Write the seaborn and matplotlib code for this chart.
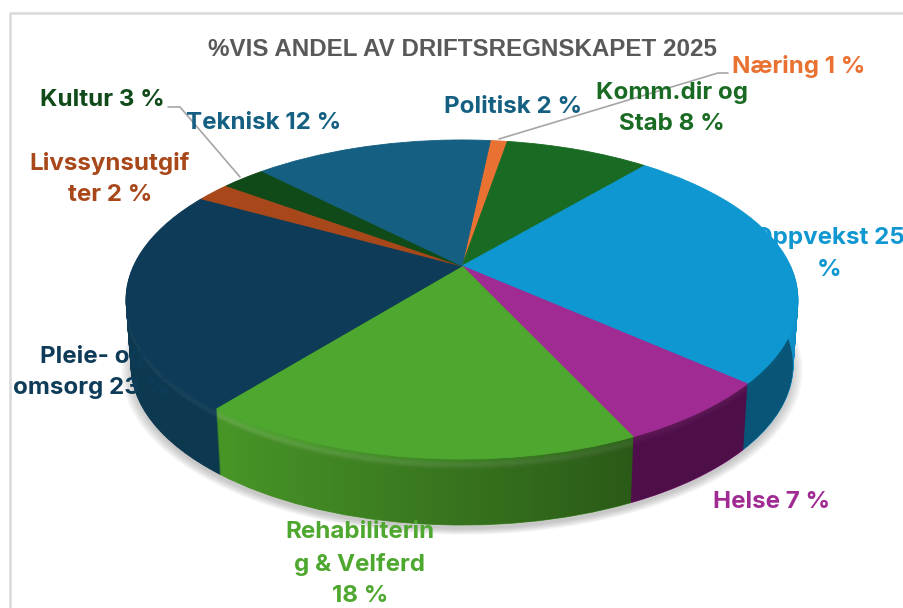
import numpy as np
import matplotlib
matplotlib.use('Agg')
import matplotlib.pyplot as plt
from matplotlib.colors import LinearSegmentedColormap, to_rgb
from matplotlib.path import Path
from matplotlib.patches import PathPatch
from matplotlib.transforms import Transform
import seaborn as sns

# Slices clockwise, starting from the top
names = ['Næring', 'Komm.dir og Stab', 'Oppvekst', 'Helse', 'Rehabilitering & Velferd',
         'Pleie- og omsorg', 'Livssynsutgifter', 'Kultur', 'Teknisk', 'Politisk']
values = [1.0, 8.5, 25.4, 6.5, 17.7, 22.3, 2.0, 2.6, 11.9, 2.1]
top_colors = ['#E97132', '#196B24', '#0E97D0', '#A02B93', '#4EA72E',
              '#0E3C58', '#A8481A', '#0F4A18', '#156082', '#156082']
side_colors = ['#8C441E', '#0F4016', '#108EC8', '#821A7B', '#479427',
               '#0C3850', '#7A3312', '#0B3512', '#0D4058', '#0D4058']
rim_glow = [0, 0, 0, 0, 0.12, 0.05, 0, 0, 0, 0]

label_texts = ['Næring 1 %', 'Komm.dir og\nStab 8 %', 'Oppvekst 25\n%', 'Helse 7 %',
               'Rehabiliterin\ng & Velferd\n18 %', 'Pleie- og\nomsorg 23 %',
               'Livssynsutgif\nter 2 %', 'Kultur 3 %', 'Teknisk 12 %', 'Politisk 2 %']
label_colors = ['#E97132', '#196B24', '#0E97D0', '#A02B93', '#4EA72E',
                '#0E3C58', '#A8481A', '#0F4A18', '#156082', '#156082']
label_x = [799, 672, 829, 772, 360, 92, 110, 102, 264, 513]
label_y = [67, 108, 254, 502, 564, 372, 179, 100, 123, 107]
title = '%VIS ANDEL AV DRIFTSREGNSKAPET 2025'


class Tilt(Transform):
    # perspective view of the unit pie, result in pixel coordinates of the picture
    input_dims = 2
    output_dims = 2

    def __init__(self, drop=0.0, grow=1.0):
        super().__init__()
        self.drop = drop
        self.grow = grow

    def transform_non_affine(self, xy):
        xy = np.asarray(xy, dtype=float)
        w = 1 + 0.21 * xy[:, 1]
        scale = self.grow * (1 - 0.015 * self.drop / 66)
        x = 462 + 328.5 * scale * xy[:, 0] / w
        y = 266 + self.drop - 152.5 * self.grow * xy[:, 1] / w
        return np.column_stack([x, y])


def mix(a, b, t):
    a, b = np.array(to_rgb(a)), np.array(to_rgb(b))
    return tuple(a + (b - a) * t)


sns.set_theme(style='white')
plt.rcParams['font.family'] = ['Inter', 'DejaVu Sans']

fig = plt.figure(figsize=(9.04, 6.08), dpi=100, facecolor='white')
ax = fig.add_axes([0, 0, 1, 1])


def draw_pie(colors, tilt, alpha=None, zorder=1):
    wedges, _ = ax.pie(values, colors=colors, startangle=84, counterclock=False,
                       wedgeprops={'linewidth': 0 if alpha else 0.6, 'alpha': alpha, 'zorder': zorder})
    for w in wedges:
        w.set_edgecolor(w.get_facecolor())
        w.set_transform(tilt + ax.transData)


# soft shadow under the pie
for g in np.arange(1.03, 1.0, -0.005):
    draw_pie(['#555555'] * len(values), Tilt(drop=70, grow=g), alpha=0.05)

# side wall, from the bottom layer up, blending into the top colour at the rim
for d in np.arange(66, 0, -1.0):
    t = min(d / 9, 1.0)
    glow = np.exp(-((d - 6) / 3.5) ** 2)
    colors = [mix(mix(c, s, t), 'white', g * glow)
              for c, s, g in zip(top_colors, side_colors, rim_glow)]
    draw_pie(colors, Tilt(drop=d))

# the wall gets darker towards the right
theta = np.linspace(np.pi, 2 * np.pi, 120)
circle = np.column_stack([np.cos(theta), np.sin(theta)])
lower = Tilt(drop=66).transform(circle)
upper = Tilt().transform(circle)[::-1]
wall = PathPatch(Path(np.vstack([lower, upper, lower[:1]])), transform=ax.transData, fc='none', ec='none')
ax.add_patch(wall)
shade = LinearSegmentedColormap.from_list('shade', [(0, 0, 0, 0), (0, 0, 0, 0.4)])
im = ax.imshow(np.linspace(0, 1, 256)[None, :], cmap=shade, extent=[230, 640, 540, 260], aspect='auto', zorder=1.5)
im.set_clip_path(wall)
right = ax.imshow([[1.0]], cmap=shade, vmin=0, vmax=1, extent=[640, 800, 540, 260], aspect='auto', zorder=1.5)
right.set_clip_path(wall)

# top surface
draw_pie(top_colors, Tilt(), zorder=2)

ax.set_aspect('auto')
ax.set_xlim(0, 904)
ax.set_ylim(608, 0)
ax.axis('off')

# chart area border
ax.plot([10, 10, 904], [608, 13, 13], color='#d9d9d9', lw=1.8, zorder=3)

# leader lines
ax.plot([168, 180, 240], [107, 107, 177], color='#a6a6a6', lw=1.2, zorder=3)
ax.plot([499, 718, 728], [139, 73, 73], color='#a6a6a6', lw=1.2, zorder=3)

ax.text(462, 50, title, ha='center', va='center', fontsize=17.4, fontweight='bold',
        color='#595959', family='Liberation Sans', zorder=4)

for s, c, x, y in zip(label_texts, label_colors, label_x, label_y):
    ax.text(x, y, s, color=c, ha='center', va='center', fontsize=17.4, fontweight='bold',
            linespacing=1.55, zorder=4)

fig.savefig('out.png', dpi=100, facecolor='white')
